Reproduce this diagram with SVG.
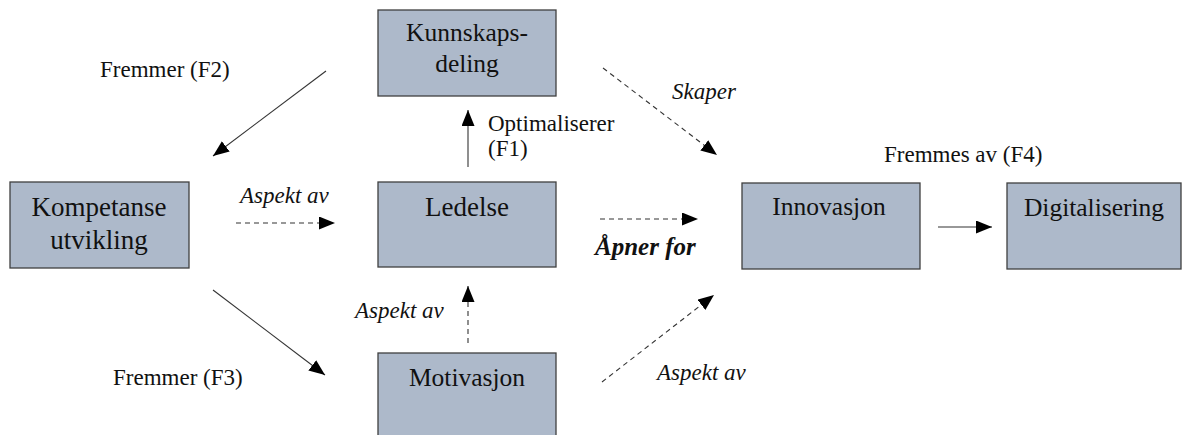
<svg xmlns="http://www.w3.org/2000/svg" width="1182" height="435" viewBox="0 0 1182 435">
<style>
.box{fill:#adb9ca;stroke:#3f3f3f;stroke-width:1.3}
text{font-family:'Liberation Serif','Times New Roman',Times,serif;fill:#111}
.nt{font-size:25.5px;text-anchor:middle}
.nb{font-size:27px}
.lbl{font-size:23px}
.it{font-style:italic}
.bi{font-style:italic;font-weight:bold;font-size:25px}
.ln{stroke:#333;stroke-width:1.1;fill:none}
.ds{stroke-dasharray:5,4}
</style>
<defs>
<marker id="ah" markerUnits="userSpaceOnUse" markerWidth="17" markerHeight="13" refX="16" refY="6.5" orient="auto">
<path d="M0,0 L16,6.5 L0,13 z" fill="#000"/>
</marker>
</defs>
<g id="connectors">
<line class="ln" x1="326" y1="71" x2="213" y2="156" marker-end="url(#ah)"/>
<line class="ln" x1="213" y1="290" x2="325" y2="375" marker-end="url(#ah)"/>
<line class="ln ds" x1="236" y1="223" x2="335" y2="223" marker-end="url(#ah)"/>
<line class="ln" x1="468" y1="167" x2="468" y2="110" marker-end="url(#ah)"/>
<line class="ln ds" x1="468" y1="343" x2="468" y2="286" marker-end="url(#ah)"/>
<line class="ln ds" x1="600" y1="219" x2="698" y2="219" marker-end="url(#ah)"/>
<line class="ln ds" x1="603" y1="68" x2="717" y2="155" marker-end="url(#ah)"/>
<line class="ln ds" x1="602" y1="382" x2="714" y2="295" marker-end="url(#ah)"/>
<line class="ln" x1="938" y1="227" x2="992" y2="227" marker-end="url(#ah)"/>
</g>
<g id="labels">
<text class="lbl" x="100" y="77">Fremmer (F2)</text>
<text class="lbl" x="113" y="385">Fremmer (F3)</text>
<text class="lbl it" x="240" y="203">Aspekt av</text>
<text class="lbl" x="488" y="131">Optimaliserer</text>
<text class="lbl" x="488" y="156">(F1)</text>
<text class="lbl it" x="672" y="99">Skaper</text>
<text class="lbl bi" x="595" y="255">Åpner for</text>
<text class="lbl it" x="355" y="318">Aspekt av</text>
<text class="lbl it" x="657" y="380">Aspekt av</text>
<text class="lbl" x="884" y="162">Fremmes av (F4)</text>
</g>
<g id="kunnskapsdeling">
<rect class="box" x="378" y="10" width="178" height="86"/>
<text class="nt" x="467" y="41">Kunnskaps-</text>
<text class="nt" x="467" y="72">deling</text>
</g>
<g id="kompetanseutvikling">
<rect class="box" x="10" y="182" width="179" height="86"/>
<text class="nt nb" x="99" y="216">Kompetanse</text>
<text class="nt nb" x="99" y="249">utvikling</text>
</g>
<g id="ledelse">
<rect class="box" x="378" y="182" width="178" height="85"/>
<text class="nt nb" x="467" y="216">Ledelse</text>
</g>
<g id="motivasjon">
<rect class="box" x="378" y="353" width="178" height="90"/>
<text class="nt" x="467" y="386">Motivasjon</text>
</g>
<g id="innovasjon">
<rect class="box" x="742" y="183" width="178" height="86"/>
<text class="nt" x="829" y="215">Innovasjon</text>
</g>
<g id="digitalisering">
<rect class="box" x="1007" y="183" width="174" height="86"/>
<text class="nt" x="1094" y="216">Digitalisering</text>
</g>
</svg>
